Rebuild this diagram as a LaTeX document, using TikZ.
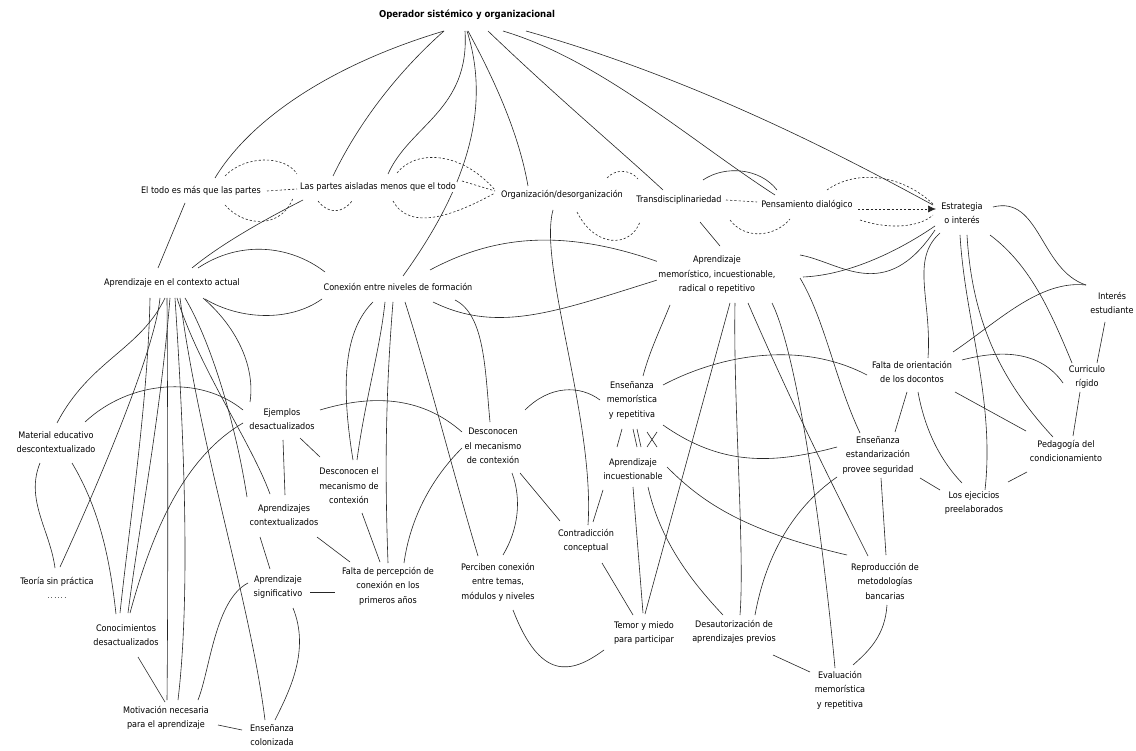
\documentclass[tikz,border=0pt]{standalone}
\usepackage{fontspec}
\setmainfont{DejaVu Sans Condensed}
\usetikzlibrary{arrows.meta,backgrounds}
\begin{document}
\begin{tikzpicture}[x=1pt,y=-1pt,
  lbl/.style={align=center,inner sep=1pt,fill=white,font=\fontsize{9}{14.5}\selectfont},
  ttl/.style={align=center,inner sep=1pt,fill=white,font=\fontsize{9.5}{12}\selectfont\bfseries},
  conn/.style={line width=0.6pt,black!85},
  dconn/.style={line width=0.6pt,black!85,dash pattern=on 2.2pt off 2pt},
  dot/.style={line width=0.6pt,black!60,dash pattern=on 0.8pt off 2.5pt}]
\useasboundingbox (0,0) rectangle (1136,751);

% ---------- concepts ----------
\node[ttl] (title) at (467,15) {Operador sistémico y organizacional};
\node[lbl] (todo) at (201,191) {El todo es más que las partes};
\node[lbl] (partes) at (378,187) {Las partes aisladas menos que el todo};
\node[lbl] (org) at (562,195) {Organización/desorganización};
\node[lbl] (trans) at (679,200) {Transdisciplinariedad};
\node[lbl] (pens) at (807,205) {Pensamiento dialógico};
\node[lbl] (estr) at (962,213) {Estrategia\\o interés};
\node[lbl] (aca) at (172,283) {Aprendizaje en el contexto actual};
\node[lbl] (cn) at (398,287) {Conexión entre niveles de formación};
\node[lbl] (am) at (717,275) {Aprendizaje\\memorístico, incuestionable,\\radical o repetitivo};
\node[lbl] (interes) at (1112,303) {Interés\\estudiante};
\node[lbl] (fo) at (912,372) {Falta de orientación\\de los docontos};
\node[lbl] (curr) at (1087,377) {Curriculo\\rígido};
\node[lbl] (em) at (632,400) {Enseñanza\\memorística\\y repetitiva};
\node[lbl] (ejem) at (282,419) {Ejemplos\\desactualizados};
\node[lbl] (mat) at (56,442) {Material educativo\\descontextualizado};
\node[lbl] (desc1) at (349,486) {Desconocen el\\mecanismo de\\contexión};
\node[lbl] (desc2) at (493,446) {Desconocen\\el mecanismo\\de contexión};
\node[lbl] (ai) at (633,469) {Aprendizaje\\incuestionable};
\node[lbl] (ee) at (878,455) {Enseñanza\\estandarización\\provee seguridad};
\node[lbl] (ped) at (1066,451) {Pedagogía del\\condicionamiento};
\node[lbl] (apctx) at (284,515) {Aprendizajes\\contextualizados};
\node[lbl] (ejec) at (974,503) {Los ejecicios\\preelaborados};
\node[lbl] (contra) at (586,541) {Contradicción\\conceptual};
\node[lbl] (teoria) at (57,582) {Teoría sin práctica};
\node[lbl] (fp) at (388,586) {Falta de percepción de\\conexión en los\\primeros años};
\node[lbl] (asig) at (278,587) {Aprendizaje\\significativo};
\node[lbl] (perc) at (498,582) {Perciben conexión\\entre temas,\\módulos y niveles};
\node[lbl] (repro) at (885,581) {Reproducción de\\metodologías\\bancarias};
\node[lbl] (conoc) at (126,635) {Conocimientos\\desactualizados};
\node[lbl] (temor) at (644,633) {Temor y miedo\\para participar};
\node[lbl] (desaut) at (734,632) {Desautorización de\\aprendizajes previos};
\node[lbl] (eval) at (840,690) {Evaluación\\memorística\\y repetitiva};
\node[lbl] (motiv) at (166,718) {Motivación necesaria\\para el aprendizaje};
\node[lbl] (ecol) at (272,735) {Enseñanza\\colonizada};

\begin{scope}[on background layer]
\fill[white] (0,0) rectangle (1136,751);
% ---------- from the top operator ----------
\draw[conn] ([shift={(-23,16)}]title.center) .. controls (330,65) and (250,120) .. ([shift={(14,-13)}]todo.center);
\draw[conn] ([shift={(-23,16)}]title.center) .. controls (400,70) and (360,120) .. ([shift={(-45,-11)}]partes.center);
\draw[conn] ([shift={(-2,16)}]title.center) .. controls (470,110) and (410,125) .. ([shift={(10,-13)}]partes.center);
\draw[conn] ([shift={(0,16)}]title.center) .. controls (492,110) and (465,190) .. ([shift={(5,-11)}]cn.center);
\draw[conn] ([shift={(1,16)}]title.center) .. controls (500,90) and (520,140) .. ([shift={(-34,-9)}]org.center);
\draw[conn] ([shift={(21,16)}]title.center) .. controls (560,100) and (620,150) .. ([shift={(-16,-10)}]trans.center);
\draw[conn] ([shift={(36,16)}]title.center) .. controls (600,60) and (690,140) .. ([shift={(-32,-10)}]pens.center);
\draw[conn] ([shift={(59,16)}]title.center) .. controls (700,80) and (850,160) .. ([shift={(-29,-8)}]estr.center);

% ---------- dashed chain of principles ----------
\draw[dconn] ([shift={(66,0)}]todo.center) -- ([shift={(-81,2)}]partes.center);
\draw[dconn] ([shift={(24,-15)}]todo.center) .. controls (245,155) and (285,155) .. ([shift={(-81,-13)}]partes.center);
\draw[dconn] ([shift={(24,14)}]todo.center) .. controls (245,228) and (282,228) .. ([shift={(-85,11)}]partes.center);
\draw[dconn] ([shift={(-60,14)}]partes.center) .. controls (328,214) and (342,214) .. ([shift={(-26,14)}]partes.center);
\draw[dconn] ([shift={(19,-14)}]partes.center) .. controls (415,150) and (460,150) .. ([shift={(-67,-5)}]org.center);
\draw[dconn] ([shift={(84,-6)}]partes.center) -- ([shift={(-67,-4)}]org.center);
\draw[dconn] ([shift={(15,14)}]partes.center) .. controls (410,232) and (455,215) .. ([shift={(-67,-2)}]org.center);
\draw[dconn] ([shift={(15,17)}]org.center) .. controls (595,248) and (630,248) .. ([shift={(-39,22)}]trans.center);
\draw[dconn] ([shift={(45,-17)}]org.center) .. controls (615,169) and (630,169) .. ([shift={(-41,-21)}]trans.center);
\draw[dconn] ([shift={(47,0)}]trans.center) -- ([shift={(-50,-3)}]pens.center);
\draw[dconn] ([shift={(51,20)}]trans.center) .. controls (745,240) and (775,237) .. ([shift={(-17,14)}]pens.center);
\draw[dconn,-{Latex[length=8pt,width=7pt]}] ([shift={(51,4)}]pens.center) -- ([shift={(-26,-4)}]estr.center);
\draw[dconn] ([shift={(53,15)}]pens.center) .. controls (890,230) and (920,227) .. ([shift={(-29,2)}]estr.center);
\draw[dconn] ([shift={(20,-15)}]pens.center) .. controls (855,170) and (900,173) .. ([shift={(-29,-9)}]estr.center);

% ---------- upper level links ----------
\draw[conn] ([shift={(24,-20)}]trans.center) .. controls (725,165) and (760,168) .. ([shift={(-30,-15)}]pens.center);
\draw[conn] ([shift={(21,22)}]trans.center) -- ([shift={(3,-29)}]am.center);
\draw[conn] ([shift={(-16,12)}]todo.center) -- ([shift={(-14,-15)}]aca.center);
\draw[conn] ([shift={(-75,13)}]partes.center) .. controls (260,222) and (220,245) .. ([shift={(20,-15)}]aca.center);
\draw[conn] ([shift={(-9,15)}]org.center) .. controls (538,265) and (595,420) .. ([shift={(2,-16)}]contra.center);
\draw[conn] ([shift={(26,-15)}]aca.center) .. controls (240,240) and (290,245) .. ([shift={(-73,-15)}]cn.center);
\draw[conn] ([shift={(33,16)}]aca.center) .. controls (240,320) and (290,322) .. ([shift={(-76,12)}]cn.center);
\draw[conn] ([shift={(32,-17)}]cn.center) .. controls (490,238) and (560,225) .. ([shift={(-50,-10)}]am.center);
\draw[conn] ([shift={(35,15)}]cn.center) .. controls (500,335) and (560,310) .. ([shift={(-50,2)}]am.center);
\draw[conn] ([shift={(83,-20)}]am.center) .. controls (840,262) and (885,305) .. ([shift={(-27,17)}]estr.center);
\draw[conn] ([shift={(86,2)}]am.center) .. controls (850,275) and (900,250) .. ([shift={(-27,13)}]estr.center);

% ---------- strategy branch ----------
\draw[conn] ([shift={(-22,20)}]estr.center) .. controls (910,260) and (932,300) .. ([shift={(16,-14)}]fo.center);
\draw[conn] ([shift={(-2,22)}]estr.center) .. controls (965,320) and (995,400) .. ([shift={(11,-13)}]ejec.center);
\draw[conn] ([shift={(5,22)}]estr.center) .. controls (972,320) and (1000,380) .. ([shift={(-13,-14)}]ped.center);
\draw[conn] ([shift={(28,22)}]estr.center) .. controls (1030,265) and (1050,310) .. ([shift={(-15,-14)}]curr.center);
\draw[conn] ([shift={(31,-6)}]estr.center) .. controls (1040,195) and (1040,270) .. ([shift={(-26,-18)}]interes.center);
\draw[conn] ([shift={(41,-20)}]fo.center) .. controls (1000,320) and (1040,280) .. ([shift={(-26,-18)}]interes.center);
\draw[conn] ([shift={(-7,19)}]interes.center) -- ([shift={(10,-14)}]curr.center);
\draw[conn] ([shift={(-7,15)}]curr.center) -- ([shift={(7,-15)}]ped.center);
\draw[conn] ([shift={(50,-12)}]fo.center) .. controls (1000,350) and (1040,350) .. ([shift={(-24,6)}]curr.center);
\draw[conn] ([shift={(43,20)}]fo.center) -- ([shift={(-40,-20)}]ped.center);
\draw[conn] ([shift={(-5,20)}]fo.center) -- ([shift={(17,-23)}]ee.center);
\draw[conn] ([shift={(6,20)}]fo.center) .. controls (925,430) and (940,460) .. ([shift={(-12,-20)}]ejec.center);
\draw[conn] ([shift={(-39,21)}]ped.center) -- ([shift={(34,-21)}]ejec.center);
\draw[conn] ([shift={(42,23)}]ee.center) -- ([shift={(-34,-13)}]ejec.center);
\draw[conn] ([shift={(3,23)}]ee.center) -- ([shift={(1,-26)}]repro.center);

% ---------- rote learning branch ----------
\draw[conn] ([shift={(83,3)}]am.center) .. controls (825,320) and (835,380) .. ([shift={(-18,-22)}]ee.center);
\draw[conn] ([shift={(31,-15)}]em.center) .. controls (720,355) and (800,340) .. ([shift={(-45,3)}]fo.center);
\draw[conn] ([shift={(31,25)}]em.center) .. controls (720,465) and (770,465) .. ([shift={(-41,-8)}]ee.center);
\draw[conn] ([shift={(-47,30)}]am.center) .. controls (660,330) and (650,350) .. ([shift={(11,-24)}]em.center);
\draw[conn] ([shift={(32,-36)}]desc2.center) .. controls (550,385) and (580,385) .. ([shift={(-32,0)}]em.center);
\draw[conn] ([shift={(-10,29)}]em.center) -- ([shift={(-16,-22)}]ai.center);
\draw[conn] ([shift={(1,29)}]em.center) -- ([shift={(4,-22)}]ai.center);
\draw[conn] ([shift={(5,29)}]em.center) -- ([shift={(8,-22)}]ai.center);
\draw[conn] ([shift={(15,32)}]em.center) -- ([shift={(24,-22)}]ai.center);
\draw[conn] ([shift={(25,32)}]em.center) -- ([shift={(14,-22)}]ai.center);
\draw[conn] ([shift={(-30,21)}]ai.center) -- ([shift={(7,-19)}]contra.center);
\draw[conn] ([shift={(0,18)}]ai.center) -- ([shift={(-1,-20)}]temor.center);
\draw[conn] ([shift={(15,18)}]ai.center) .. controls (660,540) and (690,580) .. ([shift={(-11,-17)}]desaut.center);
\draw[conn] ([shift={(34,-2)}]ai.center) .. controls (700,500) and (740,530) .. ([shift={(-38,-26)}]repro.center);
\draw[conn] ([shift={(13,28)}]am.center) -- ([shift={(1,-19)}]temor.center);
\draw[conn] ([shift={(18,28)}]am.center) .. controls (733,400) and (745,550) .. ([shift={(6,-17)}]desaut.center);
\draw[conn] ([shift={(55,28)}]am.center) .. controls (800,360) and (825,560) .. ([shift={(-5,-22)}]eval.center);
\draw[conn] ([shift={(31,28)}]am.center) .. controls (790,400) and (830,480) .. ([shift={(-17,-25)}]repro.center);
\draw[conn] ([shift={(-41,22)}]ee.center) .. controls (790,510) and (765,560) .. ([shift={(21,-17)}]desaut.center);
\draw[conn] ([shift={(16,22)}]contra.center) -- ([shift={(-11,-18)}]temor.center);
\draw[conn] ([shift={(27,27)}]desc2.center) -- ([shift={(-26,-20)}]contra.center);
\draw[conn] ([shift={(15,28)}]perc.center) .. controls (540,680) and (570,675) .. ([shift={(-40,17)}]temor.center);
\draw[conn] ([shift={(39,23)}]desaut.center) -- ([shift={(-30,-18)}]eval.center);
\draw[conn] ([shift={(2,24)}]repro.center) .. controls (885,635) and (870,650) .. ([shift={(13,-25)}]eval.center);

% ---------- connection between levels ----------
\draw[conn] ([shift={(-31,2)}]desc2.center) .. controls (430,480) and (410,520) .. ([shift={(16,-23)}]fp.center);
\draw[conn] ([shift={(19,27)}]desc2.center) .. controls (522,500) and (518,530) .. ([shift={(5,-27)}]perc.center);
\draw[conn] ([shift={(57,13)}]cn.center) .. controls (485,315) and (485,370) .. ([shift={(-3,-24)}]desc2.center);
\draw[conn] ([shift={(7,15)}]cn.center) .. controls (430,380) and (455,480) .. ([shift={(-20,-26)}]perc.center);
\draw[conn] ([shift={(-5,15)}]cn.center) .. controls (385,400) and (385,480) .. ([shift={(0,-23)}]fp.center);
\draw[conn] ([shift={(-25,15)}]cn.center) .. controls (345,330) and (340,380) .. ([shift={(4,-26)}]desc1.center);
\draw[conn] ([shift={(-13,15)}]cn.center) .. controls (380,350) and (365,400) .. ([shift={(8,-26)}]desc1.center);
\draw[conn] ([shift={(38,-9)}]ejem.center) .. controls (370,395) and (420,395) .. ([shift={(-31,-14)}]desc2.center);
\draw[conn] ([shift={(18,19)}]ejem.center) -- ([shift={(-29,-29)}]desc1.center);
\draw[conn] ([shift={(1,21)}]ejem.center) -- ([shift={(1,-20)}]apctx.center);

% ---------- current context branch ----------
\draw[conn] ([shift={(29,-20)}]mat.center) .. controls (130,380) and (200,375) .. ([shift={(-39,-9)}]ejem.center);
\draw[conn] ([shift={(-39,4)}]ejem.center) .. controls (180,460) and (150,540) .. ([shift={(4,-22)}]conoc.center);
\draw[conn] ([shift={(-16,21)}]mat.center) .. controls (25,500) and (50,530) .. ([shift={(-2,-14)}]teoria.center);
\draw[conn] ([shift={(16,21)}]mat.center) .. controls (100,510) and (110,560) .. ([shift={(-10,-21)}]conoc.center);
\draw[conn] ([shift={(-7,15)}]aca.center) .. controls (140,350) and (90,360) .. ([shift={(1,-19)}]mat.center);
\draw[conn] ([shift={(-12,15)}]aca.center) .. controls (155,350) and (100,480) .. ([shift={(3,-15)}]teoria.center);
\draw[conn] ([shift={(-22,15)}]aca.center) .. controls (148,400) and (130,520) .. ([shift={(-6,-22)}]conoc.center);
\draw[conn] ([shift={(-2,15)}]aca.center) .. controls (160,420) and (140,520) .. ([shift={(2,-22)}]conoc.center);
\draw[conn] ([shift={(-5,15)}]aca.center) .. controls (168,450) and (168,600) .. ([shift={(1,-18)}]motiv.center);
\draw[conn] ([shift={(3,15)}]aca.center) .. controls (185,450) and (190,600) .. ([shift={(12,-18)}]motiv.center);
\draw[conn] ([shift={(8,15)}]aca.center) .. controls (200,450) and (250,600) .. ([shift={(-7,-15)}]ecol.center);
\draw[conn] ([shift={(13,15)}]aca.center) .. controls (210,340) and (235,420) .. ([shift={(-37,-18)}]apctx.center);
\draw[conn] ([shift={(5,15)}]aca.center) .. controls (200,370) and (250,440) .. ([shift={(-14,-21)}]apctx.center);
\draw[conn] ([shift={(31,15)}]aca.center) .. controls (240,330) and (255,370) .. ([shift={(-32,-17)}]ejem.center);
\draw[conn] ([shift={(33,22)}]apctx.center) -- ([shift={(-38,-24)}]fp.center);
\draw[conn] ([shift={(-24,22)}]apctx.center) -- ([shift={(-8,-18)}]asig.center);
\draw[conn] ([shift={(13,27)}]desc1.center) -- ([shift={(-8,-24)}]fp.center);
\draw[conn] ([shift={(32,5)}]asig.center) -- ([shift={(-53,6)}]fp.center);
\draw[conn] ([shift={(-30,-4)}]asig.center) .. controls (215,600) and (210,670) .. ([shift={(32,-18)}]motiv.center);
\draw[conn] ([shift={(15,21)}]asig.center) .. controls (310,650) and (290,690) .. ([shift={(3,-15)}]ecol.center);
\draw[conn] ([shift={(52,7)}]motiv.center) -- ([shift={(-30,-5)}]ecol.center);
\draw[conn] ([shift={(12,22)}]conoc.center) -- ([shift={(-1,-16)}]motiv.center);
\draw[dot] ([shift={(-9,15)}]teoria.center) -- ([shift={(8,15)}]teoria.center);
\end{scope}
\end{tikzpicture}
\end{document}
